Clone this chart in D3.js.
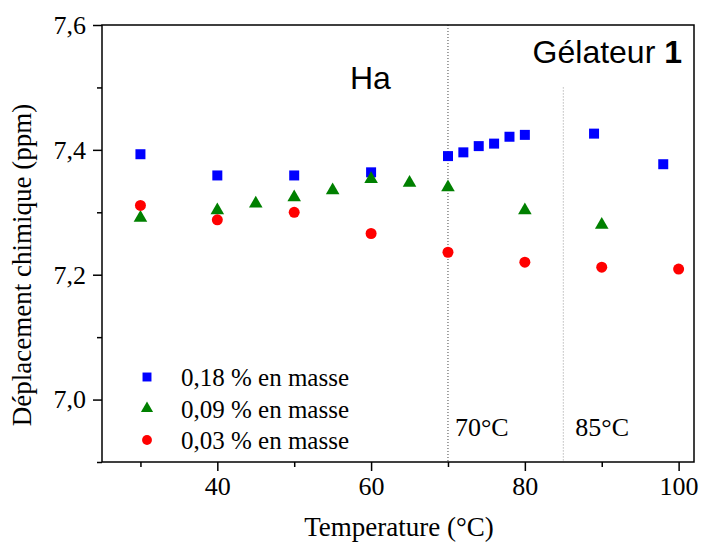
<!DOCTYPE html>
<html lang="fr">
<head>
<meta charset="UTF-8">
<title>Gélateur 1 - Ha</title>
<script src="https://d3js.org/d3.v7.min.js"></script>
<style>
    body {margin: 0; background: #fff}
    text {font-family: 'Liberation Serif', 'Times New Roman', serif; fill: #000}
    .sans {font-family: 'Liberation Sans', Arial, sans-serif}
</style>
</head>
<body>
<script>
    const width  = 702;
    const height = 543;
    const margin = {top: 25, right: 8, bottom: 81, left: 102};

    // 0,18 % en masse (carrés bleus)
    const tempHigh  = [30, 40, 50, 60, 70, 72, 74, 76, 78, 80, 89, 98];
    const shiftHigh = [7.393, 7.359, 7.359, 7.364, 7.390, 7.396, 7.406, 7.410, 7.421, 7.424, 7.426, 7.377];
    // 0,09 % en masse (triangles verts)
    const tempMid  = [30, 40, 45, 50, 55, 60, 65, 70, 80, 90];
    const shiftMid = [7.291, 7.303, 7.314, 7.324, 7.335, 7.353, 7.347, 7.340, 7.303, 7.280];
    // 0,03 % en masse (ronds rouges)
    const tempLow  = [30, 40, 50, 60, 70, 80, 90, 100];
    const shiftLow = [7.311, 7.288, 7.300, 7.266, 7.236, 7.220, 7.212, 7.209];

    const seriesNames = ["0,18 % en masse", "0,09 % en masse", "0,03 % en masse"];
    const xTicks = [40, 60, 80, 100];
    const xMinor = [30, 50, 70, 90];
    const yTicks = [7.0, 7.2, 7.4, 7.6];
    const yMinor = [6.9, 7.1, 7.3, 7.5];
    const transitions = [70, 85];

    const series = [
        {name: seriesNames[0], color: "#0000ff", shape: d3.symbolSquare, size: 100, temp: tempHigh, shift: shiftHigh},
        {name: seriesNames[1], color: "#008000", shape: d3.symbolTriangle, size: 80, temp: tempMid, shift: shiftMid},
        {name: seriesNames[2], color: "#ff0000", shape: d3.symbolCircle, size: 95, temp: tempLow, shift: shiftLow}
    ];

    const x = d3.scaleLinear().domain([25, 102]).range([margin.left, width - margin.right]);
    const y = d3.scaleLinear().domain([6.9, 7.6]).range([height - margin.bottom, margin.top]);
    const fmt = d => d3.format(".1f")(d).replace(".", ",");

    const svg = d3.select("body").append("svg")
        .attr("width", width)
        .attr("height", height);

    // vertical dotted markers
    svg.append("line")
        .attr("x1", x(transitions[0])).attr("x2", x(transitions[0]))
        .attr("y1", y(7.6)).attr("y2", y(6.9))
        .attr("stroke", "#444").attr("stroke-dasharray", "1,2");
    svg.append("line")
        .attr("x1", x(transitions[1])).attr("x2", x(transitions[1]))
        .attr("y1", y(7.5)).attr("y2", y(6.9))
        .attr("stroke", "#999").attr("stroke-dasharray", "1,2");

    // frame
    svg.append("rect")
        .attr("x", margin.left).attr("y", margin.top)
        .attr("width", width - margin.left - margin.right)
        .attr("height", height - margin.top - margin.bottom)
        .attr("fill", "none").attr("stroke", "#000").attr("stroke-width", 1.5);

    // axes
    const xAxis = svg.append("g")
        .attr("transform", `translate(0,${height - margin.bottom})`)
        .call(d3.axisBottom(x).tickValues(xTicks).tickSize(9).tickSizeOuter(0).tickPadding(6));
    svg.append("g")
        .attr("transform", `translate(0,${height - margin.bottom})`)
        .call(d3.axisBottom(x).tickValues(xMinor).tickSize(5).tickSizeOuter(0).tickFormat(""));

    const yAxis = svg.append("g")
        .attr("transform", `translate(${margin.left},0)`)
        .call(d3.axisLeft(y).tickValues(yTicks).tickSize(9).tickSizeOuter(0).tickPadding(7).tickFormat(fmt));
    svg.append("g")
        .attr("transform", `translate(${margin.left},0)`)
        .call(d3.axisLeft(y).tickValues(yMinor).tickSize(5).tickSizeOuter(0).tickFormat(""));

    svg.selectAll(".domain").remove();
    svg.selectAll(".tick line").attr("stroke", "#000").attr("stroke-width", 1.5);
    [xAxis, yAxis].forEach(a => a.selectAll("text")
        .style("font-family", "'Liberation Serif', serif")
        .style("font-size", "26px"));

    // points
    series.forEach(s => {
        svg.append("g").selectAll("path")
            .data(s.temp.map((t, i) => [t, s.shift[i]]))
            .join("path")
            .attr("transform", d => `translate(${x(d[0])},${y(d[1])})`)
            .attr("d", d3.symbol().type(s.shape).size(s.size))
            .attr("fill", s.color);
    });

    // legend
    const legend = svg.append("g").attr("transform", "translate(147,377)");
    series.forEach((s, i) => {
        legend.append("path")
            .attr("transform", `translate(0,${i * 31.5})`)
            .attr("d", d3.symbol().type(s.shape).size(s.size * 0.8))
            .attr("fill", s.color);
        legend.append("text")
            .attr("x", 34).attr("y", i * 31.5 + 9)
            .attr("font-size", 25)
            .text(s.name);
    });

    // annotations
    svg.append("text").attr("class", "sans")
        .attr("x", 350).attr("y", 89).attr("font-size", 32).text("Ha");
    svg.append("text").attr("class", "sans")
        .attr("x", 682).attr("y", 63).attr("font-size", 32).attr("text-anchor", "end")
        .text("Gélateur ")
        .append("tspan").attr("font-weight", "bold").text("1");
    svg.append("text").attr("x", x(transitions[0]) + 7).attr("y", 436).attr("font-size", 26).text("70°C");
    svg.append("text").attr("x", x(transitions[1]) + 12).attr("y", 436).attr("font-size", 26).text("85°C");

    // axis titles
    svg.append("text")
        .attr("x", 399).attr("y", 536).attr("font-size", 27).attr("text-anchor", "middle")
        .text("Temperature (°C)");
    svg.append("text")
        .attr("transform", "translate(31,265) rotate(-90)")
        .attr("font-size", 27).attr("text-anchor", "middle")
        .text("Déplacement chimique (ppm)");
</script>
</body>
</html>
